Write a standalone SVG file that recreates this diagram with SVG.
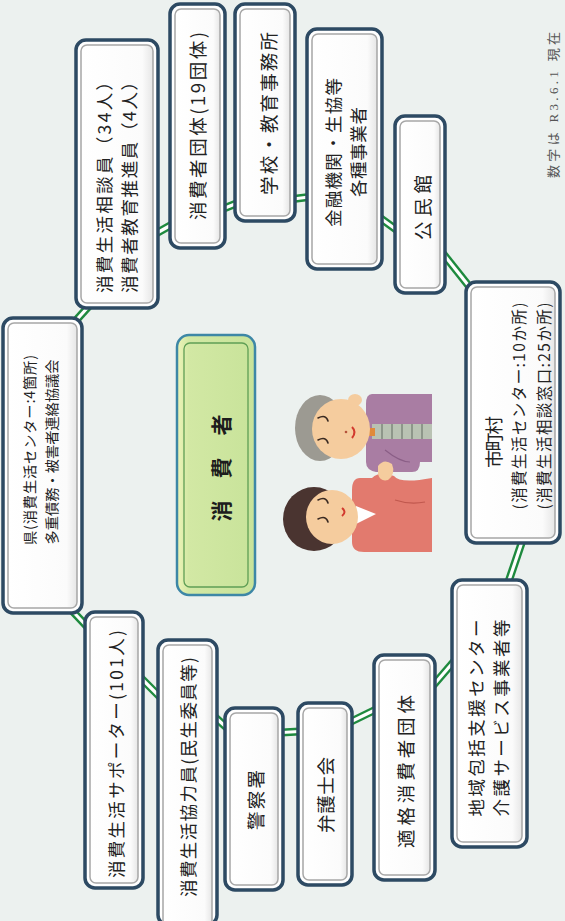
<svg xmlns="http://www.w3.org/2000/svg" width="565" height="921" viewBox="0 0 565 921">
  <defs>
    <style>
      .bg { fill: #ecf1ef; }
      .box { fill: #ffffff; stroke: #2d4a63; stroke-width: 3.5; }
      .inner { fill: url(#paper); stroke: #a7a7a7; stroke-width: 1.5; }
      .rail { fill: none; stroke: #1e8a3e; stroke-width: 8; stroke-linecap: butt; }
      .gap { fill: none; stroke: #ffffff; stroke-width: 3.2; stroke-linecap: butt; }
      .t { font-family: "Noto Sans CJK JP", "Noto Sans", sans-serif; font-size: 17.5px; fill: #222222; text-anchor: middle; dominant-baseline: central; }
      .sm { font-size: 14.2px; }
      .md { font-size: 15.5px; }
      .big { font-size: 18.5px; }
      .core { font-family: "Noto Sans CJK JP", sans-serif; font-size: 21px; font-weight: bold; fill: #1d1d1d; text-anchor: middle; dominant-baseline: central; }
      .note { font-family: "Liberation Serif", "Noto Sans CJK JP", serif; font-size: 13px; fill: #555555; text-anchor: middle; dominant-baseline: central; }
      .skin { fill: #f5cc9e; }
      .eye { fill: none; stroke: #3a2a22; stroke-width: 1.6; stroke-linecap: round; }
    </style>
    <linearGradient id="paper" x1="0" y1="0" x2="1" y2="0">
      <stop offset="0" stop-color="#ffffff"/>
      <stop offset="0.85" stop-color="#fbfbfb"/>
      <stop offset="1" stop-color="#e6e6e6"/>
    </linearGradient>
    <linearGradient id="leaf" x1="0" y1="0" x2="1" y2="0">
      <stop offset="0" stop-color="#eef4b8"/>
      <stop offset="0.15" stop-color="#d2e8a4"/>
      <stop offset="1" stop-color="#c8e39a"/>
    </linearGradient>
  </defs>

  <rect class="bg" x="0" y="0" width="565" height="921"/>

  <!-- ring of double green lines joining neighbouring boxes -->
  <g id="connectors">
    <g class="rail">
      <path d="M62 336 L98 296"/>
      <path d="M148 238 L180 220"/>
      <path d="M215 212 L245 200"/>
      <path d="M285 200 L317 196"/>
      <path d="M372 212 L405 236"/>
      <path d="M437 246 L480 300"/>
      <path d="M526 530 L505 592"/>
      <path d="M462 652 L425 695"/>
      <path d="M383 706 L342 726"/>
      <path d="M273 733 L308 731"/>
      <path d="M207 710 L235 735"/>
      <path d="M133 670 L168 705"/>
      <path d="M62 600 L95 635"/>
    </g>
    <g class="gap">
      <path d="M62 336 L98 296"/>
      <path d="M148 238 L180 220"/>
      <path d="M215 212 L245 200"/>
      <path d="M285 200 L317 196"/>
      <path d="M372 212 L405 236"/>
      <path d="M437 246 L480 300"/>
      <path d="M526 530 L505 592"/>
      <path d="M462 652 L425 695"/>
      <path d="M383 706 L342 726"/>
      <path d="M273 733 L308 731"/>
      <path d="M207 710 L235 735"/>
      <path d="M133 670 L168 705"/>
      <path d="M62 600 L95 635"/>
    </g>
  </g>

  <!-- prefecture -->
  <g id="pref">
    <rect class="box" x="3" y="318" width="79" height="295" rx="10"/>
    <rect class="inner" x="8" y="323" width="69" height="285" rx="6"/>
    <text class="t sm" transform="rotate(-90)" x="-450" y="28.5" textLength="190" lengthAdjust="spacing">県(消費生活センター:4箇所)</text>
    <text class="t sm" transform="rotate(-90)" x="-452" y="51" textLength="185" lengthAdjust="spacing">多重債務・被害者連絡協議会</text>
  </g>

  <g id="advisors">
    <rect class="box" x="76" y="40" width="82" height="268" rx="10"/>
    <rect class="inner" x="81" y="45" width="72" height="258" rx="6"/>
    <text class="t" transform="rotate(-90)" x="-183" y="103" textLength="220" lengthAdjust="spacing">消費生活相談員（34人）</text>
    <text class="t" transform="rotate(-90)" x="-183" y="128" textLength="220" lengthAdjust="spacing">消費者教育推進員（4人）</text>
  </g>

  <g id="groups">
    <rect class="box" x="170" y="4" width="55" height="244" rx="10"/>
    <rect class="inner" x="175" y="9" width="45" height="234" rx="6"/>
    <text class="t big" transform="rotate(-90)" x="-126" y="197" textLength="188" lengthAdjust="spacing">消費者団体(19団体)</text>
  </g>

  <g id="schools">
    <rect class="box" x="235" y="4" width="60" height="217" rx="10"/>
    <rect class="inner" x="240" y="9" width="50" height="207" rx="6"/>
    <text class="t big" transform="rotate(-90)" x="-113.5" y="268" textLength="163" lengthAdjust="spacing">学校・教育事務所</text>
  </g>

  <g id="finance">
    <rect class="box" x="307" y="29" width="75" height="240" rx="10"/>
    <rect class="inner" x="312" y="34" width="65" height="230" rx="6"/>
    <text class="t" transform="rotate(-90)" x="-152.5" y="332" textLength="149" lengthAdjust="spacing">金融機関・生協等</text>
    <text class="t" transform="rotate(-90)" x="-152" y="357" textLength="90" lengthAdjust="spacing">各種事業者</text>
  </g>

  <g id="hall">
    <rect class="box" x="395" y="116" width="50" height="177" rx="10"/>
    <rect class="inner" x="400" y="121" width="40" height="167" rx="6"/>
    <text class="t big" transform="rotate(-90)" x="-207.5" y="422" textLength="65" lengthAdjust="spacing">公民館</text>
  </g>

  <g id="city">
    <rect class="box" x="466" y="282" width="94" height="261" rx="10"/>
    <rect class="inner" x="471" y="287" width="84" height="251" rx="6"/>
    <text class="t big" transform="rotate(-90)" x="-442" y="493" textLength="52" lengthAdjust="spacing">市町村</text>
    <text class="t md" transform="rotate(-90)" x="-406" y="518" textLength="207" lengthAdjust="spacing">(消費生活センター:10か所)</text>
    <text class="t md" transform="rotate(-90)" x="-406" y="543" textLength="207" lengthAdjust="spacing">(消費生活相談窓口:25か所)</text>
  </g>

  <g id="care">
    <rect class="box" x="452" y="580" width="75" height="267" rx="10"/>
    <rect class="inner" x="457" y="585" width="65" height="257" rx="6"/>
    <text class="t" transform="rotate(-90)" x="-718" y="475" textLength="197" lengthAdjust="spacing">地域包括支援センター</text>
    <text class="t" transform="rotate(-90)" x="-718" y="500" textLength="197" lengthAdjust="spacing">介護サービス事業者等</text>
  </g>

  <g id="qualified">
    <rect class="box" x="374" y="655" width="61" height="225" rx="10"/>
    <rect class="inner" x="379" y="660" width="51" height="215" rx="6"/>
    <text class="t big" transform="rotate(-90)" x="-771.5" y="405" textLength="153" lengthAdjust="spacing">適格消費者団体</text>
  </g>

  <g id="lawyers">
    <rect class="box" x="298" y="703" width="54" height="182" rx="10"/>
    <rect class="inner" x="303" y="708" width="44" height="172" rx="6"/>
    <text class="t big" transform="rotate(-90)" x="-795" y="325" textLength="76" lengthAdjust="spacing">弁護士会</text>
  </g>

  <g id="police">
    <rect class="box" x="225" y="708" width="58" height="182" rx="10"/>
    <rect class="inner" x="230" y="713" width="48" height="172" rx="6"/>
    <text class="t big" transform="rotate(-90)" x="-800" y="255" textLength="60" lengthAdjust="spacing">警察署</text>
  </g>

  <g id="helpers">
    <rect class="box" x="158" y="640" width="59" height="285" rx="10"/>
    <rect class="inner" x="163" y="645" width="49" height="285" rx="6"/>
    <text class="t" transform="rotate(-90)" x="-777" y="187" textLength="240" lengthAdjust="spacing">消費生活協力員(民生委員等)</text>
  </g>

  <g id="supporters">
    <rect class="box" x="85" y="612" width="58" height="276" rx="10"/>
    <rect class="inner" x="90" y="617" width="48" height="266" rx="6"/>
    <text class="t" transform="rotate(-90)" x="-754" y="115" textLength="248" lengthAdjust="spacing">消費生活サポーター(101人)</text>
  </g>

  <!-- central box -->
  <g id="consumer">
    <rect x="177" y="335" width="78" height="260" rx="12" fill="url(#leaf)" stroke="#3d87a6" stroke-width="2.5"/>
    <rect x="184" y="343" width="64" height="244" rx="6" fill="none" stroke="#5f9e55" stroke-width="1.3"/>
    <text class="core" transform="rotate(-90)" x="-468" y="220" textLength="107" lengthAdjust="spacing">消費者</text>
  </g>

  <!-- two people shaking hands -->
  <g id="people">
    <!-- older man -->
    <path d="M372 394 Q366 394 366 404 L366 462 Q366 470 376 472 L412 472 Q420 472 420 462 L432 462 L432 394 Z" fill="#a97da3"/>
    <rect x="372" y="424" width="60" height="15" fill="#b9c2b3"/>
    <g stroke="#8d968a" stroke-width="2">
      <line x1="382" y1="424" x2="382" y2="439"/>
      <line x1="392" y1="424" x2="392" y2="439"/>
      <line x1="402" y1="424" x2="402" y2="439"/>
      <line x1="412" y1="424" x2="412" y2="439"/>
      <line x1="422" y1="424" x2="422" y2="439"/>
    </g>
    <rect x="369" y="428" width="6" height="8" fill="#e08a3a"/>
    <path d="M385 450 Q400 462 410 462" fill="none" stroke="#8a5e86" stroke-width="1.2"/>
    <ellipse cx="320" cy="428" rx="25" ry="33" fill="#9c9a92"/>
    <ellipse cx="341" cy="429" rx="29" ry="30" class="skin"/>
    <ellipse cx="355" cy="400" rx="7" ry="6" class="skin"/>
    <path d="M318 418 Q326 414 328 421" class="eye"/>
    <path d="M318 440 Q326 436 328 443" class="eye"/>
    <path d="M352 427 Q357 432 352 438" fill="none" stroke="#d23a2e" stroke-width="2"/>
    <circle cx="346" cy="432" r="1.3" fill="#b5523a"/>
    <!-- woman -->
    <path d="M360 478 Q352 478 352 490 L352 542 Q352 552 364 552 L432 552 L432 478 Q400 484 394 476 Q380 470 372 478 Z" fill="#e27a6e"/>
    <path d="M356 506 L376 514 L356 524 Z" fill="#ffffff"/>
    <path d="M395 500 Q410 505 425 502" fill="none" stroke="#c0584e" stroke-width="1.2"/>
    <path d="M378 466 Q384 458 392 464 Q396 474 388 480 Q380 482 378 474 Z" class="skin"/>
    <ellipse cx="314" cy="519" rx="31" ry="32" fill="#4a3430"/>
    <ellipse cx="332" cy="517" rx="26" ry="27" class="skin"/>
    <path d="M318 500 Q326 496 328 503" class="eye"/>
    <path d="M318 519 Q326 515 328 522" class="eye"/>
    <path d="M342 508 Q347 512 342 516" fill="none" stroke="#d23a2e" stroke-width="2"/>
  </g>

  <text class="note" transform="rotate(-90)" x="-105" y="553" textLength="146" lengthAdjust="spacing">数字は R3.6.1 現在</text>
</svg>
